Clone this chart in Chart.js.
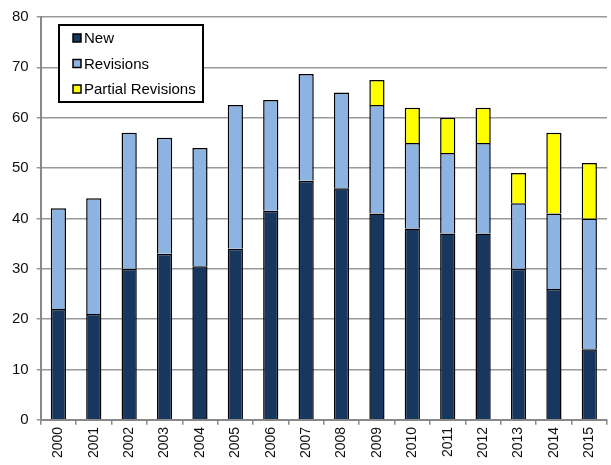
<!DOCTYPE html>
<html>
<head>
<meta charset="utf-8">
<script src="https://cdn.jsdelivr.net/npm/chart.js@4"></script>
<style>
  html, body { margin: 0; padding: 0; background: #fff; }
  #wrap { width: 611px; height: 465px; }
</style>
</head>
<body>
<div id="wrap"><canvas id="chart" width="611" height="465"></canvas></div>
<script>
const years = ['2000','2001','2002','2003','2004','2005','2006','2007','2008','2009','2010','2011','2012','2013','2014','2015'];
const newStd = [22, 21, 30, 33, 30.5, 34, 41.5, 47.5, 46, 41, 38, 37, 37, 30, 26, 14];
const revisions = [20, 23, 27, 23, 23.5, 28.5, 22, 21.2, 19, 21.5, 17, 16, 18, 13, 15, 26];
const partialRevisions = [0, 0, 0, 0, 0, 0, 0, 0, 0, 5, 7, 7, 7, 6, 16, 11];
const yTicks = [0, 10, 20, 30, 40, 50, 60, 70, 80];

const FONT = 'Arial, "Liberation Sans", sans-serif';

// legend drawn inside the plot, top-left, with a black frame
const boxLegend = {
  id: 'boxLegend',
  afterDraw(chart) {
    const ctx = chart.ctx;
    const x = 59, y = 25, w = 144, h = 77;
    ctx.save();
    ctx.fillStyle = '#fff';
    ctx.fillRect(x, y, w, h);
    ctx.strokeStyle = '#000';
    ctx.lineWidth = 2;
    ctx.strokeRect(x, y, w, h);
    ctx.font = '15px ' + FONT;
    ctx.textBaseline = 'middle';
    chart.data.datasets.forEach((ds, i) => {
      const cy = y + 13 + i * 25.5;
      ctx.fillStyle = ds.backgroundColor;
      ctx.fillRect(x + 14, cy - 4, 8, 8);
      ctx.lineWidth = 1.5;
      ctx.strokeStyle = '#000';
      ctx.strokeRect(x + 14, cy - 4, 8, 8);
      ctx.fillStyle = '#000';
      ctx.fillText(ds.label, x + 25, cy + 1);
    });
    ctx.restore();
  }
};

new Chart(document.getElementById('chart'), {
  type: 'bar',
  data: {
    labels: years,
    datasets: [
      { label: 'New', data: newStd, backgroundColor: '#17375E', borderColor: '#000', borderWidth: 1.5 },
      { label: 'Revisions', data: revisions, backgroundColor: '#8DB3E2', borderColor: '#000', borderWidth: 1.5 },
      { label: 'Partial Revisions', data: partialRevisions, backgroundColor: '#FFFF00', borderColor: '#000', borderWidth: 1.5 }
    ]
  },
  options: {
    responsive: false,
    animation: false,
    layout: { padding: { top: 5, right: 4, left: 4, bottom: 5 } },
    plugins: { legend: { display: false }, tooltip: { enabled: false } },
    datasets: { bar: { barPercentage: 0.43, categoryPercentage: 1 } },
    scales: {
      x: {
        stacked: true,
        grid: { drawOnChartArea: false, offset: true, tickLength: 5, color: '#888', lineWidth: 1.5 },
        border: { color: '#888', width: 2 },
        ticks: { color: '#111', font: { family: FONT, size: 14 }, maxRotation: 90, minRotation: 90, padding: 2 }
      },
      y: {
        stacked: true,
        min: 0, max: 80,
        afterBuildTicks: (axis) => { axis.ticks = yTicks.map(v => ({ value: v })); },
        grid: { color: '#999', lineWidth: 1.5, tickLength: 4 },
        border: { color: '#888', width: 2 },
        ticks: { color: '#111', font: { family: FONT, size: 15 }, padding: 8 }
      }
    }
  },
  plugins: [boxLegend]
});
</script>
</body>
</html>
